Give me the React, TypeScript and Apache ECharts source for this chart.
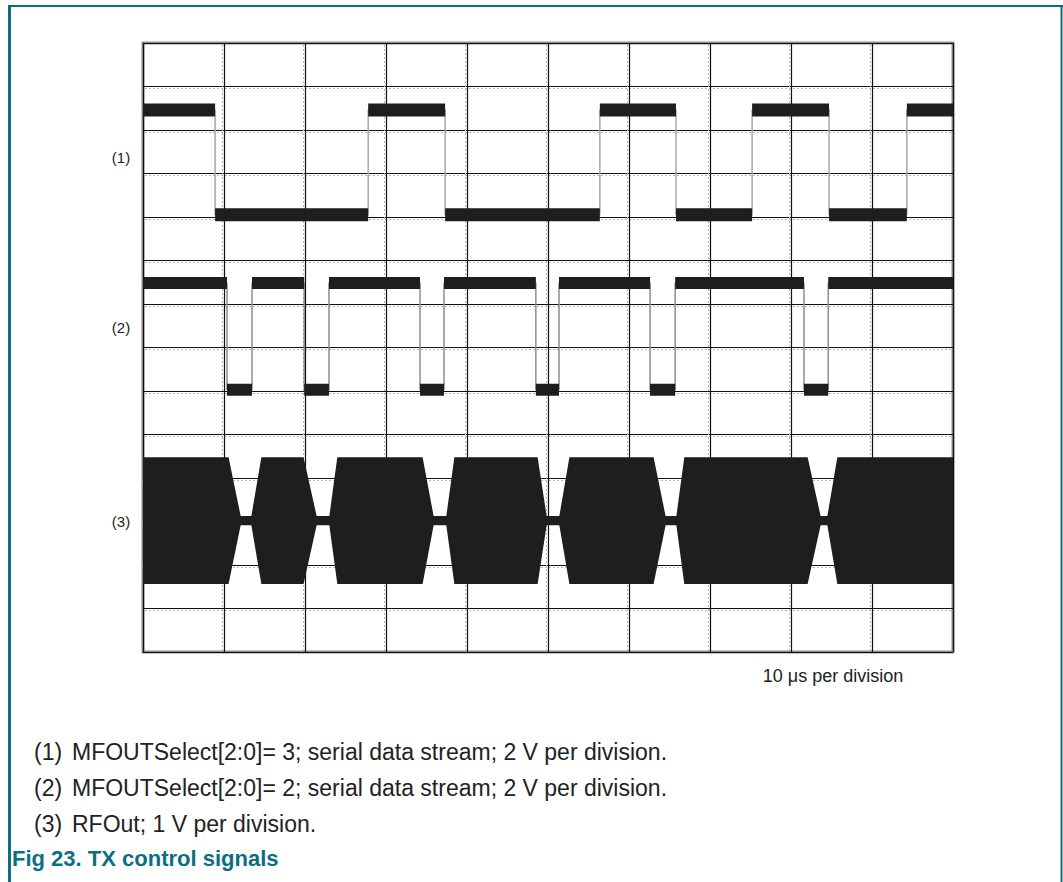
import React, { useEffect, useRef } from "react";
import * as echarts from "echarts";

// ---- data (time in µs, vertical position in divisions from the bottom) ----
const s1Times = [0, 8.9, 27.8, 37.3, 56.4, 65.8, 75.2, 84.7, 94.3, 100];
const s1Levels = [12.46, 10.05, 12.46, 10.05, 12.46, 10.05, 12.46, 10.05, 12.46];

const s2Times = [0, 10.37, 13.46, 19.9, 22.96, 34.2, 37.16, 48.5, 51.36, 62.6, 65.7, 81.6, 84.6, 100];
const s2Levels = [8.48, 6.03, 8.48, 6.03, 8.48, 6.03, 8.48, 6.03, 8.48, 6.03, 8.48, 6.03, 8.48];

const rfTimes = [
  0, 10.49, 11.98, 13.46, 14.69,
  19.75, 21.36, 23.09, 24.07,
  34.44, 35.8, 37.53, 38.52,
  48.64, 49.75, 51.48, 52.72,
  62.96, 64.44, 65.93, 66.91,
  81.98, 83.58, 84.57, 85.8, 100,
];
const rfAmp = [
  1.44, 1.44, 0.09, 0.09, 1.44,
  1.44, 0.09, 0.09, 1.44,
  1.44, 0.09, 0.09, 1.44,
  1.44, 0.09, 0.09, 1.44,
  1.44, 0.09, 0.09, 1.44,
  1.44, 0.09, 0.09, 1.44, 1.44,
];
const rfCenter = 3.02;

const traceLabels = ["(1)", "(2)", "(3)"];
const traceLabelLevels = [11.36, 7.47, 3.01];

const timebaseText = "10 \u03bcs per division";
const captionNums = ["(1)", "(2)", "(3)"];
const captionTexts = [
  "MFOUTSelect[2:0]= 3; serial data stream; 2 V per division.",
  "MFOUTSelect[2:0]= 2; serial data stream; 2 V per division.",
  "RFOut; 1 V per division.",
];
const figTitle = "Fig 23. TX control signals";

// ---- helpers ----
function stepLine(times: number[], levels: number[]) {
  const out: (number | null)[][] = [];
  levels.forEach((l, i) => {
    out.push([times[i], l]);
    out.push([times[i + 1], l]);
  });
  return out;
}
function levelBands(times: number[], levels: number[]) {
  const out: (number | null)[][] = [];
  levels.forEach((l, i) => {
    out.push([times[i], l]);
    out.push([times[i + 1], l]);
    out.push([times[i + 1], null]);
  });
  return out;
}

const TEAL = "#0a6f82";
const FONT = "'Liberation Sans', Arial, sans-serif";

export default function App() {
  const ref = useRef<HTMLDivElement>(null);
  useEffect(() => {
    if (!ref.current) return;
    const chart = echarts.init(ref.current, undefined, { renderer: "svg" });

    const hiddenAxisBits = {
      axisLine: { show: false },
      axisTick: { show: false },
      axisLabel: { show: false },
    };

    const option: any = {
      animation: false,
      backgroundColor: "#ffffff",
      grid: [
        {
          left: 143, top: 43, width: 810, height: 609,
          show: true, borderColor: "#8d8d8d", borderWidth: 3, backgroundColor: "transparent",
        },
        { left: 141, top: 45, width: 810, height: 609, show: false },
      ],
      xAxis: [
        {
          type: "value", gridIndex: 0, min: 0, max: 100, interval: 10, ...hiddenAxisBits,
          splitLine: { show: true, lineStyle: { color: "#111111", width: 1.2 } },
        },
        {
          type: "value", gridIndex: 1, min: 0, max: 100, interval: 10, ...hiddenAxisBits,
          splitLine: { show: true, showMinLine: false, showMaxLine: false, lineStyle: { color: "#b8b8b8", width: 1, type: [2, 2] } },
        },
      ],
      yAxis: [
        {
          type: "value", gridIndex: 0, min: 0, max: 14, interval: 1, ...hiddenAxisBits,
          splitLine: { show: true, lineStyle: { color: "#111111", width: 1.2 } },
        },
        {
          type: "value", gridIndex: 1, min: 0, max: 14, interval: 1, ...hiddenAxisBits,
          splitLine: { show: true, showMinLine: false, showMaxLine: false, lineStyle: { color: "#b8b8b8", width: 1, type: [2, 2] } },
        },
      ],
      series: [
        {
          type: "custom", name: "rf", xAxisIndex: 0, yAxisIndex: 0,
          coordinateSystem: "cartesian2d",
          data: [[0, rfCenter]], encode: { x: 0, y: 1 }, silent: true, clip: true,
          renderItem: (_params: any, api: any) => {
            const top = rfTimes.map((t, i) => api.coord([t, rfCenter + rfAmp[i]]));
            const bottom = rfTimes.map((t, i) => api.coord([t, rfCenter - rfAmp[i]])).reverse();
            return {
              type: "polygon",
              shape: { points: top.concat(bottom) },
              style: { fill: "#1e1e1e", stroke: "#1e1e1e", lineWidth: 1.5 },
            };
          },
        },
        {
          type: "line", name: "s1-edges", xAxisIndex: 0, yAxisIndex: 0,
          data: stepLine(s1Times, s1Levels), showSymbol: false,
          lineStyle: { color: "#a8a8a8", width: 1.5 }, silent: true,
        },
        {
          type: "line", name: "s1", xAxisIndex: 0, yAxisIndex: 0,
          data: levelBands(s1Times, s1Levels), showSymbol: false, connectNulls: false,
          lineStyle: { color: "#1e1e1e", width: 13, cap: "butt" }, silent: true,
        },
        {
          type: "line", name: "s2-edges", xAxisIndex: 0, yAxisIndex: 0,
          data: stepLine(s2Times, s2Levels), showSymbol: false,
          lineStyle: { color: "#8e8e8e", width: 1.5 }, silent: true,
        },
        {
          type: "line", name: "s2", xAxisIndex: 0, yAxisIndex: 0,
          data: levelBands(s2Times, s2Levels), showSymbol: false, connectNulls: false,
          lineStyle: { color: "#1e1e1e", width: 12, cap: "butt" }, silent: true,
        },
      ],
    };
    chart.setOption(option);

    const graphics: any[] = [
      { type: "line", shape: { x1: 8, y1: 6, x2: 1063, y2: 6 }, style: { stroke: TEAL, lineWidth: 2 } },
      { type: "line", shape: { x1: 9.5, y1: 5, x2: 9.5, y2: 882 }, style: { stroke: TEAL, lineWidth: 3 } },
      { type: "line", shape: { x1: 1061.5, y1: 5, x2: 1061.5, y2: 882 }, style: { stroke: TEAL, lineWidth: 2 } },
    ];
    traceLabels.forEach((lab, i) => {
      const p = chart.convertToPixel({ gridIndex: 0 }, [0, traceLabelLevels[i]]) as number[];
      graphics.push({
        type: "text", x: 121, y: p[1],
        style: { text: lab, font: `15px ${FONT}`, fill: "#222", align: "center", verticalAlign: "middle" },
      });
    });
    graphics.push({
      type: "text", x: 833, y: 676,
      style: { text: timebaseText, font: `18px ${FONT}`, fill: "#222", align: "center", verticalAlign: "middle" },
    });
    captionTexts.forEach((t, i) => {
      const y = 752 + i * 36;
      graphics.push({
        type: "text", x: 34, y,
        style: { text: captionNums[i], font: `23px ${FONT}`, fill: "#222", verticalAlign: "middle" },
      });
      graphics.push({
        type: "text", x: 72, y,
        style: { text: t, font: `23px ${FONT}`, fill: "#222", verticalAlign: "middle" },
      });
    });
    graphics.push({
      type: "text", x: 12, y: 858,
      style: { text: figTitle, font: `bold 22px ${FONT}`, fill: TEAL, verticalAlign: "middle" },
    });
    chart.setOption({ graphic: graphics });

    return () => chart.dispose();
  }, []);

  return (
    <div
      ref={ref}
      style={{ position: "absolute", left: 0, top: 0, width: 1063, height: 882 }}
    />
  );
}
